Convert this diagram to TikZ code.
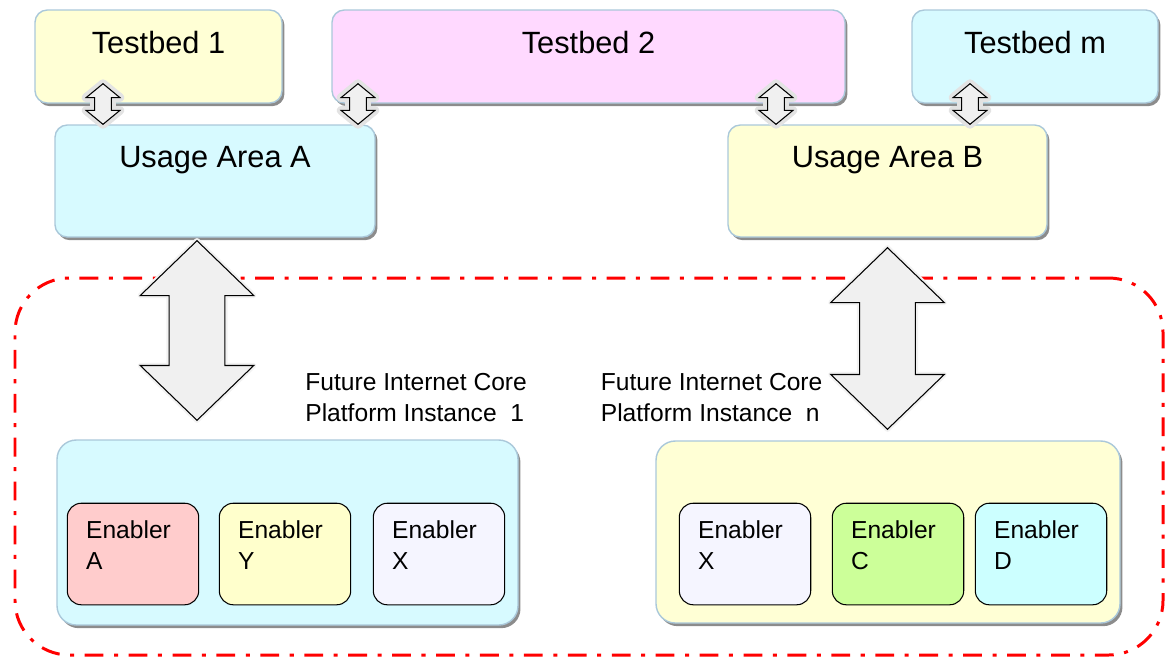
\documentclass[tikz,border=0pt]{standalone}
\usepackage{fontspec}
\setmainfont{Liberation Sans}
\usetikzlibrary{calc,fit,shadows}

\newcommand{\dblarrow}[6]{%
    \draw[#6] let \p1=#1, \p2=#2 in
        (\x1,\y1) -- (\x1+#3,\y1-#4) -- (\x1+#5,\y1-#4) -- (\x1+#5,\y2+#4)
        -- (\x1+#3,\y2+#4) -- (\x2,\y2) -- (\x1-#3,\y2+#4) -- (\x1-#5,\y2+#4)
        -- (\x1-#5,\y1-#4) -- (\x1-#3,\y1-#4) -- cycle;}

\begin{document}
\begin{tikzpicture}[x=0.02cm, y=-0.02cm,
    roundbox/.style={draw=myedge, line width=0.8pt, rounded corners=7pt, inner sep=0pt,
        drop shadow={shadow xshift=1.4pt, shadow yshift=-1.8pt, fill=black!60, opacity=0.75}},
    platform/.style={roundbox, rounded corners=11pt},
    enabler/.style={draw=black, line width=0.6pt, rounded corners=8pt, inner sep=0pt,
        minimum width=74.8pt, minimum height=57.8pt},
    headtext/.style={anchor=base, inner sep=0pt, font=\fontsize{17.5}{21}\selectfont},
    smalltext/.style={anchor=north west, align=left, inner sep=0pt, font=\fontsize{14}{17.6}\selectfont},
    smallarrow/.style={draw=black, line width=0.6pt, fill=myarrow,
        preaction={draw=gray!22, line width=5pt, line join=round}},
    bigarrow/.style={draw=black, line width=0.6pt, fill=myarrow,
        preaction={draw=gray!10, line width=3pt, line join=round}},
    coreframe/.style={draw=red, line width=1.7pt, dash pattern=on 10.7pt off 6pt on 2.3pt off 6pt,
        rounded corners=31pt, inner sep=0pt}
]
    \definecolor{myedge}{RGB}{170,200,218}
    \definecolor{myyellow}{RGB}{255,255,213}
    \definecolor{mypink}{RGB}{255,217,255}
    \definecolor{mycyan}{RGB}{215,250,255}
    \definecolor{myrose}{RGB}{255,204,204}
    \definecolor{mylemon}{RGB}{255,255,204}
    \definecolor{mylilac}{RGB}{245,245,255}
    \definecolor{mylime}{RGB}{204,255,153}
    \definecolor{myaqua}{RGB}{204,255,255}
    \definecolor{myarrow}{RGB}{240,240,240}

    \useasboundingbox (0,0) rectangle (1165,657);

    \node[coreframe, fit={(15,278) (1163,655)}] (core) {};

    \node[roundbox, fill=myyellow, fit={(35,10) (282,103)}] (tb1) {};
    \node[roundbox, fill=mypink, fit={(332,10) (845,103)}] (tb2) {};
    \node[roundbox, fill=mycyan, fit={(912,10) (1158,103)}] (tbm) {};
    \node[headtext] (tb1-t) at ($(tb1.north)+(0,44)$) {Testbed 1};
    \node[headtext] (tb2-t) at ($(tb2.north)+(0,44)$) {Testbed 2};
    \node[headtext] (tbm-t) at ($(tbm.north)+(0,44)$) {Testbed m};

    \node[roundbox, fill=mycyan, fit={(55,125) (375,237)}] (uaa) {};
    \node[roundbox, fill=myyellow, fit={(728,125) (1047,237)}] (uab) {};
    \node[headtext] (uaa-t) at ($(uaa.north)+(0,43)$) {Usage Area A};
    \node[headtext] (uab-t) at ($(uab.north)+(0,43)$) {Usage Area B};

    \node[platform, fill=mycyan, fit={(57,440) (518,625)}] (cp1) {};
    \node[platform, fill=myyellow, fit={(656,441) (1120,623)}] (cp2) {};
    \node[smalltext] (cp1-t) at (305,373.3) {Future Internet Core\\Platform Instance\ \ 1};
    \node[smalltext] (cp2-t) at (600.5,373.3) {Future Internet Core\\Platform Instance\ \ n};

    \foreach \nm/\cx/\cl/\ltr in {ea/133/myrose/A, ey/285/mylemon/Y, ex1/439/mylilac/X,
                                  ex2/745/mylilac/X, ec/898/mylime/C, ed/1041/myaqua/D} {
        \node[enabler, fill=\cl] (\nm) at (\cx,554) {};
        \node[smalltext] (\nm-t) at ($(\nm.north west)+(19,17.5)$) {Enabler\\\ltr};
    }

    \dblarrow{($(103,0 |- tb1.south)+(0,-20)$)}{(103,0 |- uaa.north)}{9.6pt}{7.9pt}{4.8pt}{smallarrow}
    \dblarrow{($(358,0 |- tb2.south)+(0,-20)$)}{(358,0 |- uaa.north)}{9.6pt}{7.9pt}{4.8pt}{smallarrow}
    \dblarrow{($(776,0 |- tb2.south)+(0,-20)$)}{(776,0 |- uab.north)}{9.6pt}{7.9pt}{4.8pt}{smallarrow}
    \dblarrow{($(970,0 |- tbm.south)+(0,-20)$)}{(970,0 |- uab.north)}{9.6pt}{7.9pt}{4.8pt}{smallarrow}

    \dblarrow{($(197,0 |- uaa.south)+(0,3)$)}{($(197,0 |- cp1.north)+(0,-19)$)}{32.3pt}{31.2pt}{15.9pt}{bigarrow}
    \dblarrow{($(uab.south)+(0,10)$)}{($(uab.south |- cp2.north)+(0,-11)$)}{32.3pt}{31.2pt}{15.9pt}{bigarrow}
\end{tikzpicture}
\end{document}
